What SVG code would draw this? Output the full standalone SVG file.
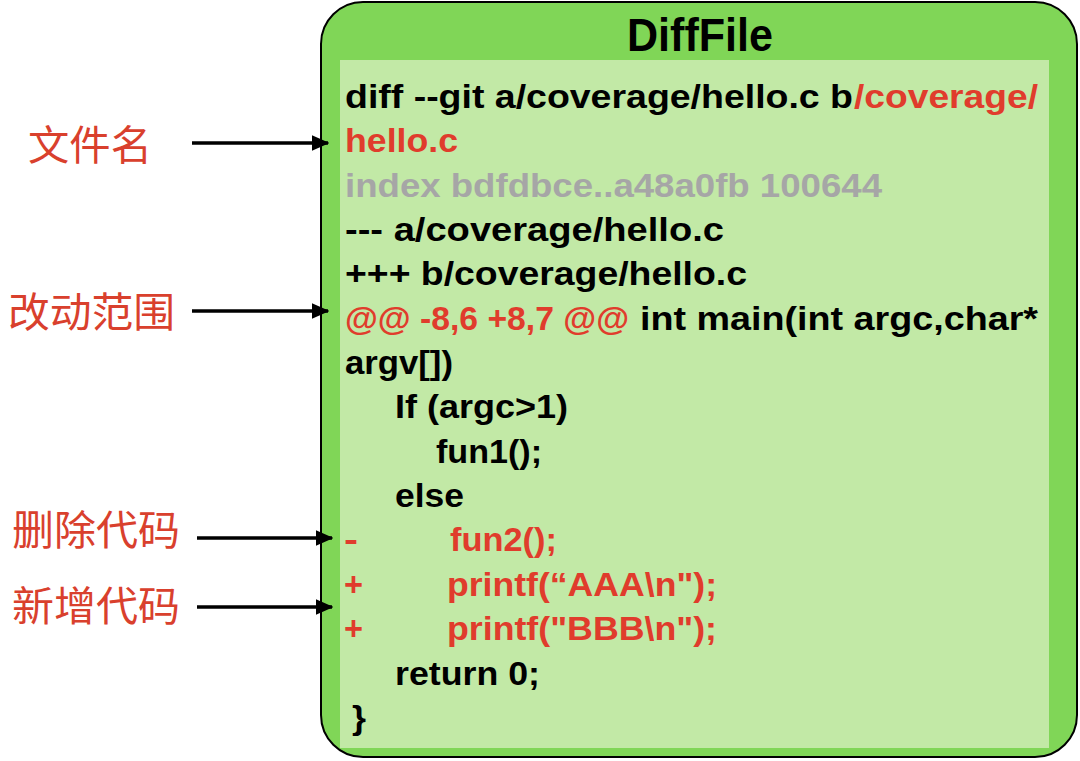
<svg xmlns="http://www.w3.org/2000/svg" width="1080" height="761" viewBox="0 0 1080 761">
<style>
.code{font-family:"Liberation Sans",Arial,sans-serif;font-weight:bold;font-size:33px;fill:#000}
.red{fill:#e03c2c}
.gray{fill:#a6a6a6}
.lbl{font-family:"Noto Sans CJK SC","Noto Sans",sans-serif;font-size:41px;fill:#d9402d}
.title{font-family:"Liberation Sans",Arial,sans-serif;font-weight:bold;font-size:46px;fill:#000}
.conn{stroke:#000;stroke-width:3.5;fill:none}
</style>
<defs>
<marker id="ah" markerWidth="5" markerHeight="4.4" refX="4.6" refY="2.2" orient="auto" markerUnits="strokeWidth">
<path d="M0,0 L5,2.2 L0,4.4 Z" fill="#000"/>
</marker>
</defs>
<rect width="1080" height="761" fill="#fff"/>
<g id="diffFile">
<rect x="321" y="2" width="756" height="755" rx="42" ry="42" fill="#80d657" stroke="#000" stroke-width="2"/>
<rect x="340" y="60" width="709" height="688" fill="#c2e9a6"/>
<text class="title" x="700" y="51" text-anchor="middle" textLength="146" lengthAdjust="spacingAndGlyphs">DiffFile</text>
<text class="code" x="345" y="108" textLength="508" lengthAdjust="spacingAndGlyphs">diff --git a/coverage/hello.c b</text>
<text class="code red" x="854" y="108" textLength="184" lengthAdjust="spacingAndGlyphs">/coverage/</text>
<text class="code red" x="345" y="152" textLength="113" lengthAdjust="spacingAndGlyphs">hello.c</text>
<text class="code gray" x="345" y="197" textLength="537" lengthAdjust="spacingAndGlyphs">index bdfdbce..a48a0fb 100644</text>
<text class="code" x="345" y="241" textLength="379" lengthAdjust="spacingAndGlyphs">--- a/coverage/hello.c</text>
<text class="code" x="345" y="285" textLength="402" lengthAdjust="spacingAndGlyphs">+++ b/coverage/hello.c</text>
<text class="code red" x="345" y="330" textLength="284" lengthAdjust="spacingAndGlyphs">@@ -8,6 +8,7 @@</text>
<text class="code" x="640" y="330" textLength="398" lengthAdjust="spacingAndGlyphs">int main(int argc,char*</text>
<text class="code" x="345" y="374" textLength="108" lengthAdjust="spacingAndGlyphs">argv[])</text>
<text class="code" x="395" y="418" textLength="173" lengthAdjust="spacingAndGlyphs">If (argc&gt;1)</text>
<text class="code" x="436" y="463" textLength="106" lengthAdjust="spacingAndGlyphs">fun1();</text>
<text class="code" x="395" y="507" textLength="69" lengthAdjust="spacingAndGlyphs">else</text>
<text class="code red" x="344" y="551" textLength="14" lengthAdjust="spacingAndGlyphs">-</text>
<text class="code red" x="450" y="551" textLength="107" lengthAdjust="spacingAndGlyphs">fun2();</text>
<text class="code red" x="344" y="596" textLength="19" lengthAdjust="spacingAndGlyphs">+</text>
<text class="code red" x="447" y="596" textLength="270" lengthAdjust="spacingAndGlyphs">printf(“AAA\n");</text>
<text class="code red" x="344" y="640" textLength="19" lengthAdjust="spacingAndGlyphs">+</text>
<text class="code red" x="447" y="640" textLength="270" lengthAdjust="spacingAndGlyphs">printf("BBB\n");</text>
<text class="code" x="395" y="685" textLength="145" lengthAdjust="spacingAndGlyphs">return 0;</text>
<text class="code" x="352" y="729" textLength="14" lengthAdjust="spacingAndGlyphs">}</text>
</g>
<g id="label-filename"><text class="lbl" x="28" y="160" textLength="124" lengthAdjust="spacingAndGlyphs">文件名</text></g>
<g id="label-range"><text class="lbl" x="8" y="327" textLength="167" lengthAdjust="spacingAndGlyphs">改动范围</text></g>
<g id="label-deleted"><text class="lbl" x="12" y="545" textLength="168" lengthAdjust="spacingAndGlyphs">删除代码</text></g>
<g id="label-added"><text class="lbl" x="12" y="621" textLength="168" lengthAdjust="spacingAndGlyphs">新增代码</text></g>
<g id="connectors">
<line class="conn" x1="192" y1="143" x2="328" y2="143" marker-end="url(#ah)"/>
<line class="conn" x1="192" y1="311" x2="328" y2="311" marker-end="url(#ah)"/>
<line class="conn" x1="197" y1="538" x2="332" y2="538" marker-end="url(#ah)"/>
<line class="conn" x1="197" y1="607" x2="332" y2="607" marker-end="url(#ah)"/>
</g>
</svg>
